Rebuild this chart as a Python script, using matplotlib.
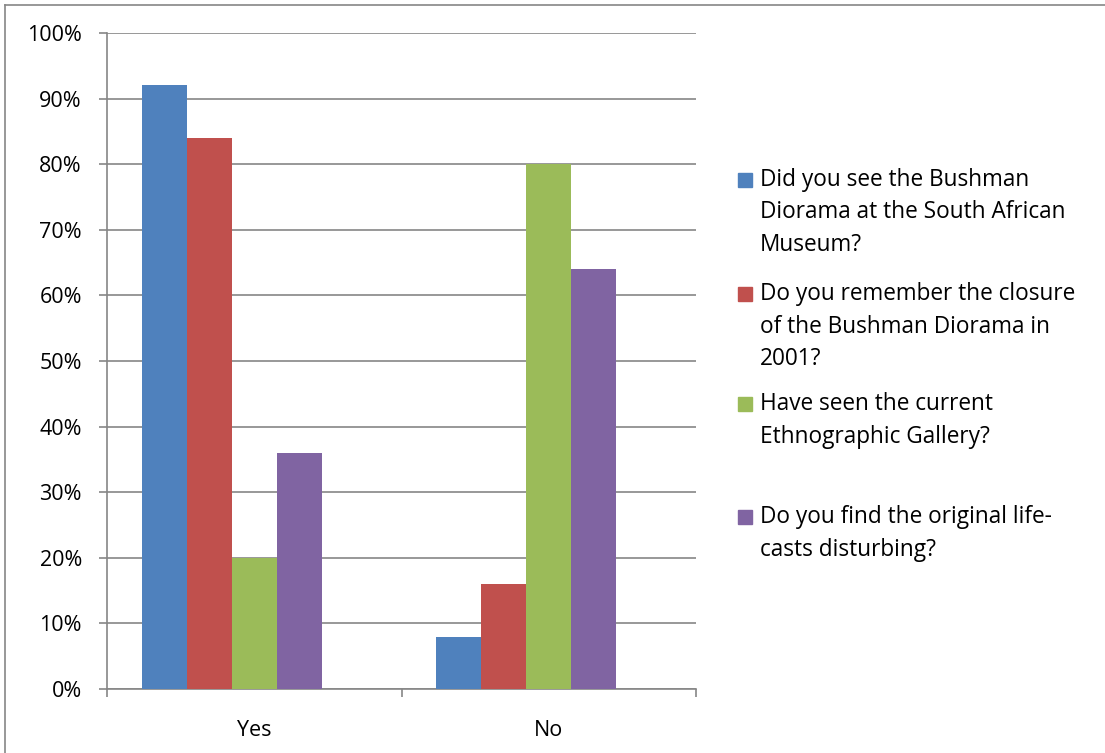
import matplotlib
matplotlib.use("Agg")
import matplotlib.pyplot as plt
from matplotlib.patches import Rectangle
from matplotlib.lines import Line2D
import numpy as np

plt.rcParams['font.family'] = ['Open Sans', 'DejaVu Sans']

categories = ["Yes", "No"]
series_names = [
    "Did you see the Bushman\nDiorama at the South African\nMuseum?",
    "Do you remember the closure\nof the Bushman Diorama in\n2001?",
    "Have seen the current\nEthnographic Gallery?",
    "Do you find the original life-\ncasts disturbing?",
]
values = [
    [92, 8],
    [84, 16],
    [20, 80],
    [36, 64],
]
colors = ["#4F81BD", "#C0504D", "#9BBB59", "#8064A2"]
yticks = [0, 10, 20, 30, 40, 50, 60, 70, 80, 90, 100]
ytick_labels = [f"{v}%" for v in yticks]

W, H = 1105, 753
fig = plt.figure(figsize=(W / 100, H / 100), dpi=100)
ax = fig.add_axes([107 / W, 1 - 689 / H, (696 - 107) / W, (689 - 33) / H])

x = np.arange(len(categories))
bw = 0.153
for i, (name, vals, c) in enumerate(zip(series_names, values, colors)):
    ax.bar(x + (i - 2) * bw, vals, width=bw, color=c, zorder=3)

ax.set_xlim(-0.5, 1.5)
ax.set_ylim(0, 100)
ax.set_yticks(yticks)
ax.set_yticklabels(ytick_labels, fontsize=15.5)
ax.yaxis.grid(True, color="#868686", linewidth=1.2, zorder=0)
ax.set_xticks(x)
ax.set_xticklabels(categories, fontsize=15.5)
ax.set_xticks([-0.5, 0.5, 1.5], minor=True)
ax.tick_params(axis='x', which='major', length=0, pad=22)
ax.tick_params(axis='x', which='minor', length=6, color="#868686", width=1.2)
ax.tick_params(axis='y', length=6, color="#868686", width=1.2, pad=12)
for s in ["top", "right"]:
    ax.spines[s].set_visible(False)
for s in ["left", "bottom"]:
    ax.spines[s].set_color("#868686")
    ax.spines[s].set_linewidth(1.2)

# legend (manual, Excel style)
entry_y = [180, 294, 404, 517]
line_h = 32.5
for name, c, yy in zip(series_names, colors, entry_y):
    fig.patches.append(Rectangle((738 / W, 1 - (yy + 7) / H), 14 / W, 14 / H,
                                 transform=fig.transFigure, color=c))
    for k, line in enumerate(name.split("\n")):
        fig.text(760 / W, 1 - (yy + k * line_h) / H, line, fontsize=16.3,
                 va='center', ha='left', color="#000000")

# chart border (left and top)
fig.add_artist(Line2D([5 / W, 5 / W], [0, 1 - 5 / H], transform=fig.transFigure,
                      color="#868686", linewidth=1.2))
fig.add_artist(Line2D([5 / W, 1], [1 - 5 / H, 1 - 5 / H], transform=fig.transFigure,
                      color="#868686", linewidth=1.2))

fig.savefig("out.png", dpi=100)
